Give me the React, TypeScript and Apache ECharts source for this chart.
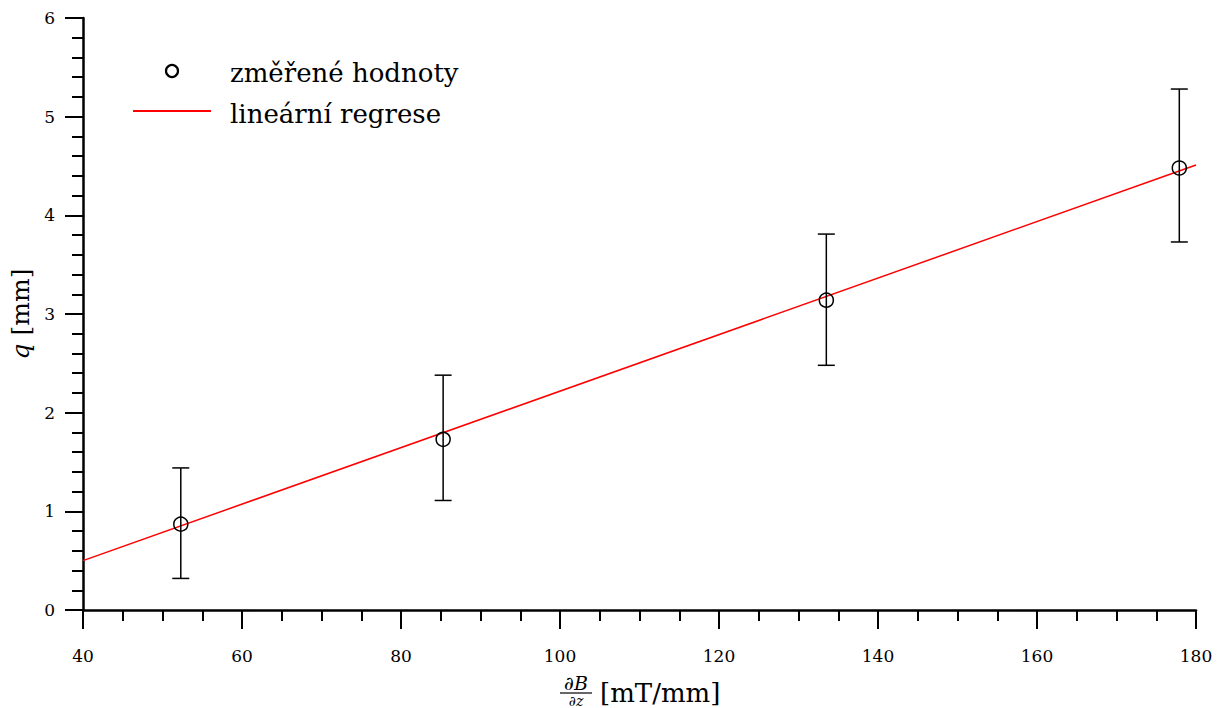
import React, { useEffect, useRef } from "react";
import * as echarts from "echarts";

const xValues = [52.3, 85.3, 133.5, 177.9];
const yValues = [0.87, 1.73, 3.14, 4.48];
const yLow = [0.32, 1.11, 2.48, 3.73];
const yHigh = [1.44, 2.38, 3.81, 5.28];
const regX = [40, 180];
const regY = [0.5, 4.51];
const legendNames = ["změřené hodnoty", "lineární regrese"];

const FONT = "DejaVu Serif";

export default function App() {
  const ref = useRef<HTMLDivElement>(null);
  useEffect(() => {
    if (!ref.current) return;
    const chart = echarts.init(ref.current, undefined, { renderer: "svg" });
    const errData = xValues.map((x, i) => [x, yLow[i], yHigh[i]]);
    chart.setOption({
      animation: false,
      textStyle: { fontFamily: FONT },
      grid: { left: 83, right: 22, top: 18, bottom: 98 },
      xAxis: {
        type: "value",
        min: 40,
        max: 180,
        interval: 20,
        axisLine: { show: true, onZero: false, lineStyle: { color: "#000", width: 2.5 } },
        axisTick: { show: true, length: 19, lineStyle: { color: "#000", width: 2 } },
        minorTick: { show: true, splitNumber: 4, length: 11, lineStyle: { color: "#000", width: 2 } },
        splitLine: { show: false },
        axisLabel: { color: "#000", fontSize: 17, margin: 37, fontFamily: FONT },
      },
      yAxis: {
        type: "value",
        min: 0,
        max: 6,
        interval: 1,
        name: "{i|q} [mm]",
        nameLocation: "middle",
        nameRotate: 90,
        nameGap: 47,
        nameTextStyle: {
          color: "#000",
          fontSize: 25,
          fontFamily: FONT,
          rich: { i: { fontStyle: "italic", fontSize: 25, fontFamily: FONT, color: "#000" } },
        },
        axisLine: { show: true, onZero: false, lineStyle: { color: "#000", width: 2.5 } },
        axisTick: { show: true, length: 18, lineStyle: { color: "#000", width: 2 } },
        minorTick: { show: true, splitNumber: 5, length: 11, lineStyle: { color: "#000", width: 2 } },
        splitLine: { show: false },
        axisLabel: { color: "#000", fontSize: 17, margin: 28, fontFamily: FONT },
      },
      graphic: [
        { type: "circle", shape: { cx: 172, cy: 71, r: 6 }, style: { fill: "none", stroke: "#000", lineWidth: 2.2 } },
        { type: "text", x: 230, y: 73, style: { text: legendNames[0], fontSize: 26, fontFamily: FONT, fill: "#000", verticalAlign: "middle" } },
        { type: "line", shape: { x1: 133, y1: 111, x2: 211, y2: 111 }, style: { stroke: "#ff0000", lineWidth: 2 } },
        { type: "text", x: 230, y: 114, style: { text: legendNames[1], fontSize: 26, fontFamily: FONT, fill: "#000", verticalAlign: "middle" } },
        { type: "text", x: 576, y: 683, style: { text: "∂B", fontSize: 19, fontStyle: "italic", fontFamily: FONT, fill: "#000", align: "center", verticalAlign: "middle" } },
        { type: "line", shape: { x1: 560, y1: 693, x2: 592, y2: 693 }, style: { stroke: "#000", lineWidth: 1.2 } },
        { type: "text", x: 576, y: 694, style: { text: "∂z", fontSize: 14, fontStyle: "italic", fontFamily: FONT, fill: "#000", align: "center", verticalAlign: "top" } },
        { type: "text", x: 600, y: 693, style: { text: "[mT/mm]", fontSize: 26, fontFamily: FONT, fill: "#000", align: "left", verticalAlign: "middle" } },
      ],
      series: [
        {
          type: "line",
          data: regX.map((x, i) => [x, regY[i]]),
          showSymbol: false,
          lineStyle: { color: "#ff0000", width: 1.5 },
          z: 3,
        },
        {
          type: "custom",
          data: errData,
          z: 4,
          renderItem: (params: any, api: any) => {
            const x = api.value(0);
            const lo = api.coord([x, api.value(1)]);
            const hi = api.coord([x, api.value(2)]);
            const half = 8.5;
            const style = { stroke: "#000", lineWidth: 1.5 };
            return {
              type: "group",
              children: [
                { type: "line", shape: { x1: lo[0], y1: lo[1], x2: hi[0], y2: hi[1] }, style },
                { type: "line", shape: { x1: lo[0] - half, y1: lo[1], x2: lo[0] + half, y2: lo[1] }, style },
                { type: "line", shape: { x1: hi[0] - half, y1: hi[1], x2: hi[0] + half, y2: hi[1] }, style },
              ],
            };
          },
        },
        {
          type: "scatter",
          data: xValues.map((x, i) => [x, yValues[i]]),
          symbol: "circle",
          symbolSize: 14,
          itemStyle: { color: "rgba(0,0,0,0)", borderColor: "#000", borderWidth: 1.5, opacity: 1 },
          z: 5,
        },
      ],
    });
    return () => chart.dispose();
  }, []);
  return <div ref={ref} style={{ width: 1218, height: 708, position: "absolute", left: 0, top: 0 }} />;
}
